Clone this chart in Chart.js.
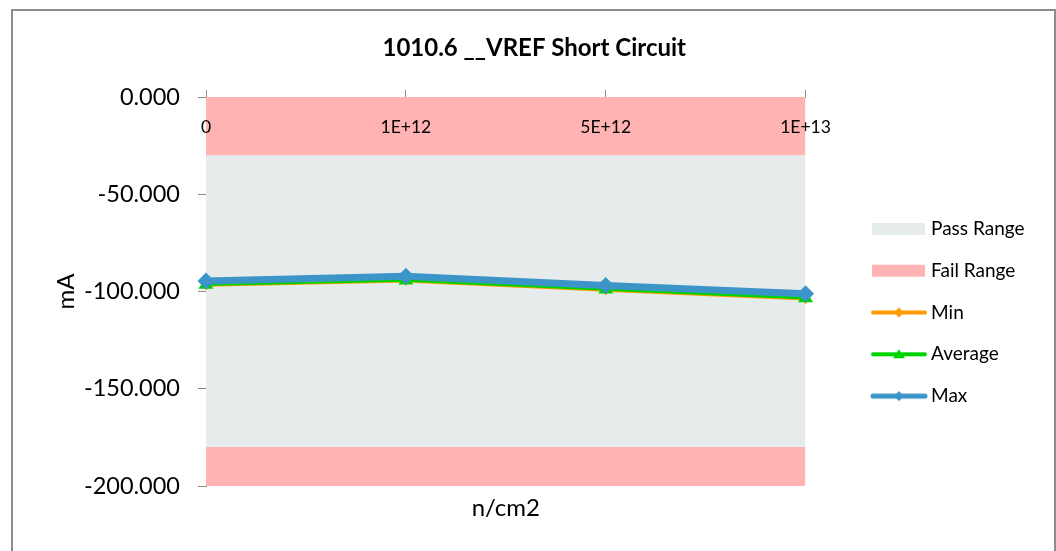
<!DOCTYPE html>
<html lang="en">
<head>
    <meta charset="UTF-8">
    <title>1010.6 __VREF Short Circuit</title>
    <script src="https://cdn.jsdelivr.net/npm/chart.js"></script>
    <style>
        body { margin: 0; background: #fff; }
        #frame { position: absolute; left: 11px; top: 9px; width: 1041px; height: 600px;
                 border: 2px solid #8c8c8c; border-bottom: none; }
        #wrap { position: absolute; left: 0; top: 0; width: 1056px; height: 551px; }
    </style>
</head>
<body>
    <div id="frame"></div>
    <div id="wrap"><canvas id="scChart"></canvas></div>

    <script>
        // values
        const fluence = ['0', '1E+12', '5E+12', '1E+13'];
        const minVals = [-96.8, -94.6, -99.3, -103.9];
        const avgVals = [-96.4, -94.2, -98.9, -103.4];
        const maxVals = [-94.6, -92.1, -96.9, -101.2];
        const passHigh = [-30, -30, -30, -30];
        const passLow = [-180, -180, -180, -180];
        const yTicks = [0, -50, -100, -150, -200];

        const FONT = 'Lato';
        const blue = '#3c95c9';
        const green = '#00d400';
        const orange = '#ff9a00';
        const passColor = '#e6ecec';
        const failColor = '#ffb3b3';

        // legend icons: transparent margin on the left pushes the legend away from the plot
        function makeIcon(kind, color, marker) {
            const c = document.createElement('canvas');
            c.width = 110; c.height = 16;
            const g = c.getContext('2d');
            const x0 = 52;
            if (kind === 'box') {
                g.fillStyle = color;
                g.fillRect(x0, 2, 53, 12);
            } else {
                g.strokeStyle = color;
                g.lineWidth = color === blue ? 5 : 4;
                g.lineCap = 'round';
                g.beginPath();
                g.moveTo(x0 + 1, 8); g.lineTo(x0 + 53, 8);
                g.stroke();
                g.fillStyle = color;
                const cx = x0 + 27;
                g.beginPath();
                if (marker === 'diamond') {
                    g.moveTo(cx, 3); g.lineTo(cx + 5, 8); g.lineTo(cx, 13); g.lineTo(cx - 5, 8);
                } else {
                    g.moveTo(cx, 3); g.lineTo(cx + 6, 12); g.lineTo(cx - 6, 12);
                }
                g.closePath();
                g.fill();
            }
            return c;
        }

        const legendItems = [
            { text: 'Pass Range', icon: makeIcon('box', passColor) },
            { text: 'Fail Range', icon: makeIcon('box', failColor) },
            { text: 'Min', icon: makeIcon('line', orange, 'diamond') },
            { text: 'Average', icon: makeIcon('line', green, 'triangle') },
            { text: 'Max', icon: makeIcon('line', blue, 'diamond') }
        ];

        const bandStyle = { pointRadius: 0, borderWidth: 0, tension: 0 };

        new Chart(document.getElementById('scChart'), {
            type: 'line',
            data: {
                labels: fluence,
                datasets: [
                    { label: 'Max', data: maxVals, borderColor: blue, backgroundColor: blue,
                      borderWidth: 7, pointStyle: 'rectRot', pointRadius: 8.5, pointBorderWidth: 0, order: 1 },
                    { label: 'Average', data: avgVals, borderColor: green, backgroundColor: green,
                      borderWidth: 3, pointStyle: 'triangle', pointRadius: 8.5, pointBorderWidth: 0, order: 2 },
                    { label: 'Min', data: minVals, borderColor: orange, backgroundColor: orange,
                      borderWidth: 3, pointStyle: 'rectRot', pointRadius: 5, pointBorderWidth: 0, order: 3 },
                    { label: 'Fail Range', data: passHigh, fill: 'end', backgroundColor: failColor, order: 4, ...bandStyle },
                    { label: 'Fail Range low', data: passLow, fill: 'start', backgroundColor: failColor, order: 5, ...bandStyle },
                    { label: 'Pass Range', data: passHigh, fill: { value: passLow[0] }, backgroundColor: passColor, order: 6, ...bandStyle }
                ]
            },
            options: {
                responsive: true,
                maintainAspectRatio: false,
                animation: false,
                layout: { padding: { left: 34, right: 21.5, top: 0, bottom: 0 } },
                plugins: {
                    tooltip: { enabled: false },
                    title: {
                        display: true,
                        text: '1010.6 __VREF Short Circuit',
                        color: '#000',
                        font: { family: FONT, size: 24, weight: 'bold' },
                        padding: { top: 33.6, bottom: 4 }
                    },
                    legend: {
                        position: 'right',
                        onClick: null,
                        title: { display: true, text: ' ', font: { size: 10 }, padding: { top: 62, bottom: 0 } },
                        labels: {
                            usePointStyle: true,
                            pointStyleWidth: 93.2,
                            boxHeight: 16,
                            padding: 22.8,
                            color: '#000',
                            font: { family: FONT, size: 19 },
                            generateLabels: () => legendItems.map((it, i) => ({
                                text: it.text,
                                pointStyle: it.icon,
                                fontColor: '#000',
                                fillStyle: 'rgba(0,0,0,0)',
                                strokeStyle: 'rgba(0,0,0,0)',
                                lineWidth: 0,
                                hidden: false,
                                index: i
                            }))
                        }
                    }
                },
                scales: {
                    x: {
                        type: 'category',
                        position: 'top',
                        offset: false,
                        grid: { drawOnChartArea: false, drawTicks: true, tickLength: 7, color: '#8c8c8c' },
                        border: { color: '#8c8c8c', width: 1 },
                        ticks: { color: '#000', mirror: true, z: 1, padding: 19.8, autoSkip: false, maxRotation: 0,
                                 font: { family: FONT, size: 17.5 } },
                        afterFit: s => { s.height = 30.6; s.paddingLeft = 0; s.paddingRight = 0; }
                    },
                    x2: {
                        type: 'category',
                        position: 'bottom',
                        labels: fluence,
                        offset: false,
                        grid: { display: false },
                        border: { display: false },
                        ticks: { display: false },
                        title: { display: true, text: 'n/cm2', color: '#000',
                                 font: { family: FONT, size: 24 }, padding: { top: 8, bottom: 28.6 } },
                        afterFit: s => { s.height = 65; s.paddingLeft = 0; s.paddingRight = 0; }
                    },
                    y: {
                        min: -200,
                        max: 0,
                        afterBuildTicks: s => { s.ticks = yTicks.map(v => ({ value: v })); },
                        grid: { drawOnChartArea: false, drawTicks: true, tickLength: 8, color: '#8c8c8c' },
                        border: { color: '#8c8c8c', width: 1 },
                        ticks: { color: '#000', padding: 18, font: { family: FONT, size: 23.5 },
                                 callback: v => Number(v).toFixed(3) },
                        title: { display: true, text: 'mA', color: '#000',
                                 font: { family: FONT, size: 24 }, padding: { top: 18, bottom: 0 } },
                        afterFit: s => { s.width = 172; }
                    }
                }
            }
        });
    </script>
</body>
</html>
